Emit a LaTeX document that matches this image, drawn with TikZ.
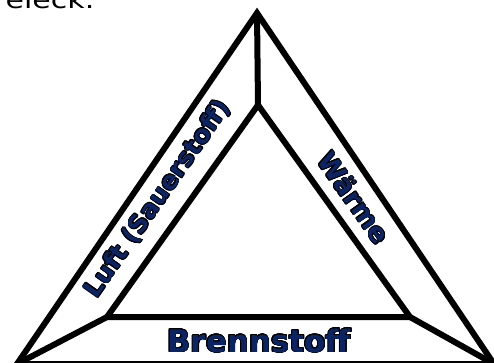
\documentclass[tikz,border=0pt]{standalone}
\usepackage{fontspec}
\setmainfont{DejaVu Sans}
\usepackage[copies]{contour}
\contourlength{0.8pt}
\definecolor{navy}{RGB}{12,36,100}
\tikzset{
  edge/.style={line width=6pt, line join=miter},
  lbl/.style={inner sep=0pt, text=navy, font=\bfseries},
}
\begin{document}
\begin{tikzpicture}[x=1pt,y=-1pt]
\clip (0,0) rectangle (494,363);
\node[anchor=base east, xscale=1.25, inner sep=0pt, font=\fontsize{24}{28}\selectfont] (title) at (95,8.3) {Dreieck:};
% outer triangle
\coordinate (A) at (257,13);
\coordinate (BL) at (17,364);
\coordinate (BR) at (494,364);
% inner triangle
\coordinate (T) at (258,105);
\coordinate (L) at (107,317);
\coordinate (R) at (410,317);
\draw[edge] (A) -- (BL) -- (BR) -- cycle;
\draw[edge] (T) -- (L) -- (R) -- cycle;
\draw[edge] (A) -- (T);
\draw[edge] (BL) -- (L);
\draw[edge] (BR) -- (R);
\node[lbl, rotate=55, font=\bfseries\fontsize{25}{30}\selectfont] (luft) at (158,199) {\contour{black}{Luft (Sauerstoff)}};
\node[lbl, rotate=-55, font=\bfseries\fontsize{26.5}{30}\selectfont] (waerme) at (354,198) {\contour{black}{Wärme}};
\node[lbl, font=\bfseries\fontsize{31}{34}\selectfont] (brenn) at (259,341) {\contour{black}{Brennstoff}};
\end{tikzpicture}
\end{document}
